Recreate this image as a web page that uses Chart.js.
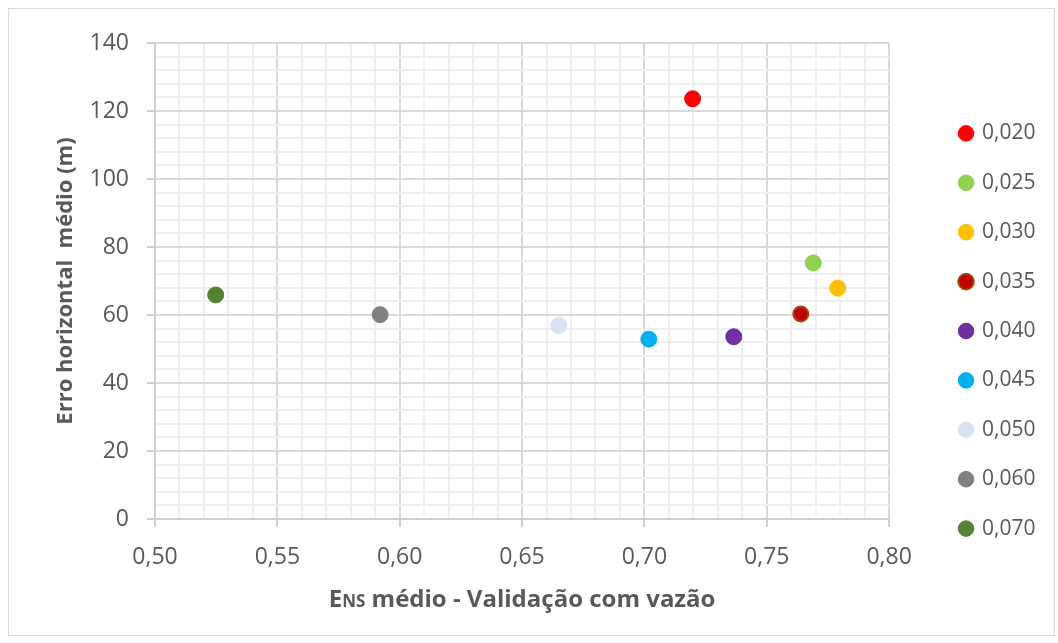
<!DOCTYPE html>
<html>
<head>
<meta charset="utf-8">
<script src="https://cdn.jsdelivr.net/npm/chart.js@4.4.1/dist/chart.umd.min.js"></script>
<style>
  html, body { margin: 0; padding: 0; background: #fff; }
  #wrap { width: 1058px; height: 643px; position: relative; }
</style>
</head>
<body>
<div id="wrap"><canvas id="scatter-chart" width="1058" height="643"></canvas></div>
<script>
// series names (Manning coefficient) and their point values
const seriesLabels = ['0,020', '0,025', '0,030', '0,035', '0,040', '0,045', '0,050', '0,060', '0,070'];
const ensValues = [0.7197, 0.769, 0.779, 0.7639, 0.7365, 0.7018, 0.665, 0.592, 0.5248];
const erroValues = [123.6, 75.3, 67.9, 60.3, 53.6, 52.9, 56.9, 60.1, 65.9];
const seriesColors = ['#FF0000', '#92D050', '#FFC000', '#C00000', '#7030A0', '#00B0F0', '#DAE3F3', '#808080', '#548235'];
const seriesBorders = ['#FF0000', '#92D050', '#FFC000', '#9C4A06', '#7030A0', '#00B0F0', '#DAE3F3', '#808080', '#548235'];

const xTitle = [['E', 24], ['NS', 17], [' médio - Validação com vazão', 24]];
const yTitle = 'Erro horizontal  médio (m)';

const textColor = '#595959';
const fontFamily = '"Open Sans", "Noto Sans", sans-serif';

const datasets = seriesLabels.map((lab, i) => ({
  label: lab,
  data: [{ x: ensValues[i], y: erroValues[i] }],
  backgroundColor: seriesColors[i],
  borderColor: seriesBorders[i],
  borderWidth: i === 3 ? 2 : 1,
  pointRadius: i === 3 ? 7.5 : 8,
  pointHoverRadius: 8
}));

const isMajorX = v => Math.round(v * 100) % 5 === 0;
const isMajorY = v => Math.round(v) % 20 === 0;

// frame around the whole chart + x title with the small "NS"
const decor = {
  id: 'decor',
  beforeDraw(chart) {
    const ctx = chart.ctx;
    ctx.save();
    ctx.fillStyle = '#fff';
    ctx.fillRect(0, 0, chart.width, chart.height);
    ctx.strokeStyle = '#d9d9d9';
    ctx.lineWidth = 1;
    ctx.strokeRect(8.5, 8.5, 1046, 627);
    ctx.restore();
  },
  afterLayout(chart) {
    const lg = chart.legend;
    lg.left += 43; lg.right += 43;
    lg.top -= 12; lg.bottom -= 12;
  },
  afterDraw(chart) {
    const ctx = chart.ctx;
    const area = chart.chartArea;
    ctx.save();
    ctx.fillStyle = textColor;
    ctx.textBaseline = 'alphabetic';
    let total = 0;
    xTitle.forEach(([t, s]) => {
      ctx.font = 'bold ' + s + 'px ' + fontFamily;
      total += ctx.measureText(t).width;
    });
    let x = (area.left + area.right) / 2 - total / 2;
    const y = 607;
    xTitle.forEach(([t, s]) => {
      ctx.font = 'bold ' + s + 'px ' + fontFamily;
      ctx.fillText(t, x, y);
      x += ctx.measureText(t).width;
    });
    ctx.restore();
  }
};

new Chart(document.getElementById('scatter-chart'), {
  type: 'scatter',
  data: { datasets: datasets },
  plugins: [decor],
  options: {
    responsive: false,
    animation: false,
    layout: { padding: { left: 0, top: 43, right: 55.5, bottom: 0 } },
    plugins: {
      tooltip: { enabled: false },
      legend: {
        position: 'right',
        labels: {
          usePointStyle: true,
          pointStyle: 'circle',
          boxWidth: 11,
          boxHeight: 11,
          padding: 28.4,
          color: textColor,
          font: { family: fontFamily, size: 21 }
        }
      }
    },
    scales: {
      x: {
        type: 'linear',
        min: 0.5,
        max: 0.8,
        afterFit: s => { s.height = 124; },
        ticks: {
          stepSize: 0.01,
          autoSkip: false,
          maxRotation: 0,
          padding: 17,
          color: textColor,
          font: { family: fontFamily, size: 23 },
          callback: v => isMajorX(v) ? v.toFixed(2).replace('.', ',') : ''
        },
        grid: {
          color: c => isMajorX(c.tick.value) ? '#d9d9d9' : '#efefef',
          lineWidth: 2,
          tickLength: 8,
          tickColor: c => isMajorX(c.tick.value) ? '#d0d0d0' : 'rgba(0,0,0,0)'
        },
        border: { color: '#cfcfcf', width: 2 }
      },
      y: {
        min: 0,
        max: 140,
        afterFit: s => { s.width = 155; },
        ticks: {
          stepSize: 4,
          autoSkip: false,
          padding: 18,
          color: textColor,
          font: { family: fontFamily, size: 23 },
          callback: v => isMajorY(v) ? String(v) : ''
        },
        grid: {
          color: c => isMajorY(c.tick.value) ? '#d9d9d9' : '#efefef',
          lineWidth: 2,
          tickLength: 8,
          tickColor: c => isMajorY(c.tick.value) ? '#d0d0d0' : 'rgba(0,0,0,0)'
        },
        border: { color: '#cfcfcf', width: 2 },
        title: {
          display: true,
          text: yTitle,
          color: textColor,
          padding: { top: 53, bottom: 0 },
          font: { family: fontFamily, size: 22, weight: 'bold' }
        }
      }
    }
  }
});
</script>
</body>
</html>
